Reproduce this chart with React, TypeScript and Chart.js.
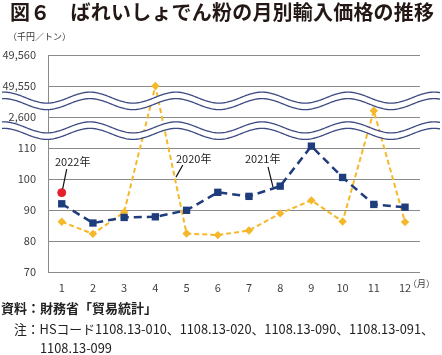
import React, { useEffect, useRef } from "react";
import { Chart, registerables } from "chart.js";

Chart.register(...registerables);

const months = [1, 2, 3, 4, 5, 6, 7, 8, 9, 10, 11, 12];
const monthLabels = ["1", "2", "3", "4", "5", "6", "7", "8", "9", "10", "11", "12"];
const yTickValues = [70, 80, 90, 100, 110, 2600, 49550, 49560];
const yTickLabels = ["70", "80", "90", "100", "110", "2,600", "49,550", "49,560"];
const price2020 = [86.2, 82.3, 89.3, 49550, 82.4, 81.9, 83.4, 88.9, 93.1, 86.3, 2602, 86.1];
const price2021 = [92.0, 85.8, 87.6, 87.8, 89.9, 95.7, 94.4, 97.7, 110.6, 100.5, 91.8, 90.9];
const price2022 = [95.6];

const YELLOW = "#f5b82a";
const BLUE = "#1f3d7c";
const RED = "#e5202c";
const FONT = "'Noto Sans CJK JP', 'Noto Sans', sans-serif";

// broken axis: each band keeps a 10-unit-per-step local scale
function toAxis(v: number): number {
  if (v < 1000) return (v - 70) / 10;
  if (v < 20000) return 5 + (v - 2600) / 10;
  return 6 + (v - 49550) / 10;
}

const wavePlugin = {
  id: "waves",
  afterDatasetsDraw(chart: any) {
    const { ctx } = chart;
    const y = chart.scales.y;
    const x = chart.scales.x;
    const drawBand = (centerVal: number) => {
      const c = y.getPixelForValue(centerVal);
      const half = 3.25;
      const amp = 5.5;
      const period = 86;
      const phase = 47;
      const x0 = 2;
      const x1 = chart.width - 2;
      const f = (px: number) => amp * Math.cos((2 * Math.PI * (px - phase)) / period);
      ctx.save();
      ctx.beginPath();
      for (let px = x0; px <= x1; px += 1) {
        const py = c - half + f(px);
        if (px === x0) ctx.moveTo(px, py);
        else ctx.lineTo(px, py);
      }
      for (let px = x1; px >= x0; px -= 1) {
        ctx.lineTo(px, c + half + f(px));
      }
      ctx.closePath();
      ctx.fillStyle = "#ffffff";
      ctx.fill();
      ctx.strokeStyle = "#3e4b82";
      ctx.lineWidth = 1.3;
      for (const off of [-half, half]) {
        ctx.beginPath();
        for (let px = x0; px <= x1; px += 1) {
          const py = c + off + f(px);
          if (px === x0) ctx.moveTo(px, py);
          else ctx.lineTo(px, py);
        }
        ctx.stroke();
      }
      ctx.restore();
    };
    drawBand(5.52);
    drawBand(4.56);

    // leader lines for labels
    const leaders = [
      [1.16, 103.2, 1.03, 96.8],
      [4.88, 104.5, 4.66, 100.6],
      [7.61, 103.9, 7.77, 97.4],
    ];
    ctx.save();
    ctx.strokeStyle = "#111";
    ctx.lineWidth = 1.2;
    for (const [ax, ay, bx, by] of leaders) {
      ctx.beginPath();
      ctx.moveTo(x.getPixelForValue(ax), y.getPixelForValue(toAxis(ay)));
      ctx.lineTo(x.getPixelForValue(bx), y.getPixelForValue(toAxis(by)));
      ctx.stroke();
    }
    ctx.restore();
  },
};

function PriceChart() {
  const ref = useRef<HTMLCanvasElement | null>(null);
  useEffect(() => {
    if (!ref.current) return;
    const chart = new Chart(ref.current, {
      type: "line",
      data: {
        datasets: [
          {
            label: "2022年",
            data: price2022.map((v, i) => ({ x: months[i], y: toAxis(v) })),
            showLine: false,
            pointStyle: "circle",
            pointRadius: 4,
            backgroundColor: RED,
            borderColor: RED,
          },
          {
            label: "2021年",
            data: price2021.map((v, i) => ({ x: months[i], y: toAxis(v) })),
            borderColor: BLUE,
            backgroundColor: BLUE,
            borderWidth: 2.5,
            borderDash: [8, 5],
            pointStyle: "rect",
            pointRadius: 5.2,
            pointBorderWidth: 0,
            tension: 0,
          },
          {
            label: "2020年",
            data: price2020.map((v, i) => ({ x: months[i], y: toAxis(v) })),
            borderColor: YELLOW,
            backgroundColor: YELLOW,
            borderWidth: 2,
            borderDash: [5, 3],
            pointStyle: "rectRot",
            pointRadius: 4.2,
            pointBorderWidth: 0,
            tension: 0,
          },
        ],
      },
      options: {
        animation: false,
        responsive: false,
        devicePixelRatio: 1,
        layout: { padding: { left: 0, right: 22, top: 55, bottom: 0 } },
        plugins: { legend: { display: false }, tooltip: { enabled: false } },
        scales: {
          x: {
            type: "linear",
            min: 0.56,
            max: 12.48,
            afterBuildTicks: (s: any) => {
              s.ticks = months.map((m) => ({ value: m }));
            },
            afterFit: (s: any) => {
              s.height = 28;
            },
            grid: { display: false, drawTicks: false },
            border: { display: false },
            ticks: {
              padding: 9,
              color: "#404040",
              font: { family: FONT, size: 11 },
              callback: (_v: any, i: number) => monthLabels[i],
            },
          },
          y: {
            type: "linear",
            min: 0,
            max: 7,
            afterBuildTicks: (s: any) => {
              s.ticks = yTickValues.map((v) => ({ value: toAxis(v) }));
            },
            afterFit: (s: any) => {
              s.width = 48;
            },
            grid: { color: "#8a8a8a", lineWidth: 1, drawTicks: false },
            border: { display: true, color: "#8a8a8a", width: 1 },
            ticks: {
              padding: 12,
              color: "#404040",
              font: { family: FONT, size: 11 },
              callback: (_v: any, i: number) => yTickLabels[i],
            },
          },
        },
      },
      plugins: [wavePlugin],
    });
    return () => chart.destroy();
  }, []);
  return (
    <canvas
      ref={ref}
      width={442}
      height={300}
      style={{ position: "absolute", left: 0, top: 0, width: 442, height: 300 }}
    />
  );
}

const txt = (extra: React.CSSProperties): React.CSSProperties => ({
  position: "absolute",
  fontFamily: FONT,
  whiteSpace: "nowrap",
  color: "#222",
  ...extra,
});

export default function App() {
  return (
    <div
      style={{
        position: "fixed",
        left: 0,
        top: 0,
        width: 442,
        height: 355,
        background: "#fff",
        overflow: "hidden",
      }}
    >
      <PriceChart />
      <div style={txt({ left: 10, top: 0, fontSize: 20, lineHeight: "24px", fontWeight: 700, color: "#231815", letterSpacing: "0.2px" })}>
        図６　ばれいしょでん粉の月別輸入価格の推移
      </div>
      <div style={txt({ left: 8, top: 31, fontSize: 9, lineHeight: "12px", color: "#333" })}>（千円／トン）</div>
      <div style={txt({ left: 55, top: 153, fontSize: 11, lineHeight: "16px" })}>2022年</div>
      <div style={txt({ left: 176, top: 150, fontSize: 11, lineHeight: "16px" })}>2020年</div>
      <div style={txt({ left: 245, top: 150, fontSize: 11, lineHeight: "16px" })}>2021年</div>
      <div style={txt({ left: 408, top: 278, fontSize: 9, lineHeight: "12px", color: "#404040" })}>（月）</div>
      <div style={txt({ left: 1, top: 299, fontSize: 13, lineHeight: "18px", fontWeight: 700 })}>
        資料：財務省「貿易統計」
      </div>
      <div style={txt({ left: 14, top: 320, fontSize: 12.8, lineHeight: "18px" })}>
        注：HSコード1108.13-010、1108.13-020、1108.13-090、1108.13-091、
      </div>
      <div style={txt({ left: 40, top: 339, fontSize: 12.8, lineHeight: "18px" })}>1108.13-099</div>
    </div>
  );
}
